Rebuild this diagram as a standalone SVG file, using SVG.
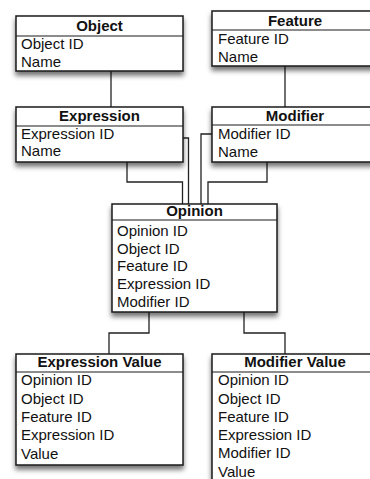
<svg xmlns="http://www.w3.org/2000/svg" width="370" height="479" viewBox="0 0 370 479">
  <defs>
    <filter id="sh" x="-10%" y="-10%" width="120%" height="140%">
      <feDropShadow dx="0" dy="4" stdDeviation="2.5" flood-color="#000" flood-opacity="0.55"/>
    </filter>
    <style>
      .box { fill: #fff; stroke: #1a1a1a; stroke-width: 1.5; }
      .sep { stroke: #1a1a1a; stroke-width: 1.2; }
      .title { font-family: "Liberation Sans", Arial, sans-serif; font-size: 15px; font-weight: bold; fill: #111; text-anchor: middle; }
      .row { font-family: "Liberation Sans", Arial, sans-serif; font-size: 15px; fill: #111; }
      .conn { fill: none; stroke: #222; stroke-width: 1.3; }
    </style>
  </defs>
  <rect width="370" height="479" fill="#fff"/>

  <g id="connectors">
    <path class="conn" d="M111,71 V107"/>
    <path class="conn" d="M285,66 V107"/>
    <path class="conn" d="M127,162 V182 H182.5 V204"/>
    <path class="conn" d="M183,138 H188.5 V204"/>
    <path class="conn" d="M212,134 H201 V204"/>
    <path class="conn" d="M267,162 V182 H208 V204"/>
    <path class="conn" d="M149,312 V333 H109 V354"/>
    <path class="conn" d="M244,312 V333 H285 V354"/>
  </g>

  <g id="object">
    <rect class="box" x="16" y="16" width="167" height="55" filter="url(#sh)"/>
    <line class="sep" x1="16" y1="36" x2="183" y2="36"/>
    <text class="title" x="99.5" y="31">Object</text>
    <text class="row" x="21" y="49">Object ID</text>
    <text class="row" x="21" y="66.5">Name</text>
  </g>

  <g id="feature">
    <rect class="box" x="212" y="11" width="166" height="55" filter="url(#sh)"/>
    <line class="sep" x1="212" y1="30" x2="378" y2="30"/>
    <text class="title" x="295" y="25.5">Feature</text>
    <text class="row" x="218" y="43.5">Feature ID</text>
    <text class="row" x="218" y="61.5">Name</text>
  </g>

  <g id="expression">
    <rect class="box" x="16" y="107" width="167" height="55" filter="url(#sh)"/>
    <line class="sep" x1="16" y1="126" x2="183" y2="126"/>
    <text class="title" x="99.5" y="121">Expression</text>
    <text class="row" x="21" y="138.5">Expression ID</text>
    <text class="row" x="21" y="156">Name</text>
  </g>

  <g id="modifier">
    <rect class="box" x="212" y="107" width="166" height="55" filter="url(#sh)"/>
    <line class="sep" x1="212" y1="125" x2="378" y2="125"/>
    <text class="title" x="295" y="121">Modifier</text>
    <text class="row" x="218" y="139">Modifier ID</text>
    <text class="row" x="218" y="156.5">Name</text>
  </g>

  <g id="opinion">
    <rect class="box" x="112" y="204" width="165" height="108" filter="url(#sh)"/>
    <line class="sep" x1="112" y1="220" x2="277" y2="220"/>
    <text class="title" x="194.5" y="216">Opinion</text>
    <text class="row" x="117" y="236">Opinion ID</text>
    <text class="row" x="117" y="253.5">Object ID</text>
    <text class="row" x="117" y="271">Feature ID</text>
    <text class="row" x="117" y="289">Expression ID</text>
    <text class="row" x="117" y="306.5">Modifier ID</text>
  </g>

  <g id="expression-value">
    <rect class="box" x="16" y="354" width="167" height="111" filter="url(#sh)"/>
    <line class="sep" x1="16" y1="372" x2="183" y2="372"/>
    <text class="title" x="99.5" y="367">Expression Value</text>
    <text class="row" x="21" y="385">Opinion ID</text>
    <text class="row" x="21" y="403.5">Object ID</text>
    <text class="row" x="21" y="422">Feature ID</text>
    <text class="row" x="21" y="440">Expression ID</text>
    <text class="row" x="21" y="458.5">Value</text>
  </g>

  <g id="modifier-value">
    <rect class="box" x="212" y="354" width="166" height="135" filter="url(#sh)"/>
    <line class="sep" x1="212" y1="372" x2="378" y2="372"/>
    <text class="title" x="295" y="367">Modifier Value</text>
    <text class="row" x="218" y="385">Opinion ID</text>
    <text class="row" x="218" y="403.5">Object ID</text>
    <text class="row" x="218" y="421.5">Feature ID</text>
    <text class="row" x="218" y="440">Expression ID</text>
    <text class="row" x="218" y="458">Modifier ID</text>
    <text class="row" x="218" y="476.5">Value</text>
  </g>
</svg>
